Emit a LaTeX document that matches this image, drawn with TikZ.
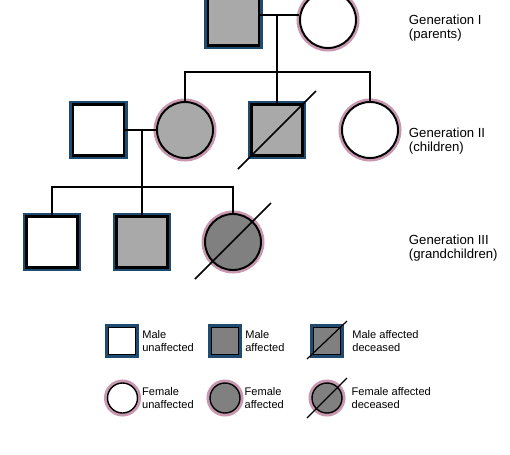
\documentclass[tikz,border=0pt]{standalone}
\usepackage{fontspec}
\setmainfont{Liberation Sans}
\usetikzlibrary{positioning}
\definecolor{edgeblue}{HTML}{1F4B70}
\definecolor{edgepink}{HTML}{C898B0}
\definecolor{affgray}{HTML}{A9A9A9}
\definecolor{decgray}{HTML}{808080}
\begin{document}
\begin{tikzpicture}[x=0.02cm, y=-0.02cm, line width=1.1pt,
    male/.style = {rectangle, minimum size=1.02cm, inner sep=0pt, fill=white, draw=black, line width=1.3pt, preaction={draw=edgeblue, line width=4pt}},
    female/.style = {circle, minimum size=1.12cm, inner sep=0pt, fill=white, draw=black, line width=1.1pt, preaction={draw=edgepink, line width=4pt}},
    keymale/.style = {male, minimum size=0.54cm, line width=1pt, preaction={draw=edgeblue, line width=2.4pt}},
    keyfemale/.style = {female, minimum size=0.6cm, line width=0.8pt, preaction={draw=edgepink, line width=2pt}},
    aff/.style = {fill=affgray}, dark/.style = {fill=decgray},
    dead/.style = {draw, line width=0.9pt},
    gen/.style = {anchor=west, align=left, inner sep=0pt, font=\fontsize{7.5}{8.2}\selectfont},
    key/.style = {align=left, inner sep=0pt, font=\fontsize{6.3}{6.9}\selectfont}]
    \path[use as bounding box, clip] (0,0) rectangle (510,454);

    % generation I
    \node[male, aff] (1) at (233.5,20) {};
    \node[female] (2) at (328,20) {};
    % generation II
    \node[male] (3) at (98.5,130) {};
    \node[female, aff] (4) at (185,130) {};
    \node[male, aff] (5) at (277,130) {};
    \node[female] (6) at (370,130) {};
    % generation III
    \node[male] (7) at (52,242) {};
    \node[male, aff] (8) at (142,242) {};
    \node[female, dark] (9) at (233,242) {};

    \draw[dead] ([shift={(-39,39)}]5.center) -- ([shift={(39,-39)}]5.center);
    \draw[dead] ([shift={(-38,37)}]9.center) -- ([shift={(38,-39)}]9.center);

    \draw ([shift={(0,-5)}]1.east) -- ([shift={(0,-5)}]2.west);
    \coordinate (s1) at (277,72);
    \draw (4.north) |- (s1) -| (6.north);
    \draw (5.north) -- (s1) -- (s1 |- 0,15);

    \draw (3) -- (4);
    \coordinate (s2) at (142,187);
    \draw (s2 |- 3) -- (s2);
    \draw (7.north) |- (s2) -| (9.north);
    \draw (s2) -- (8.north);

    \node[gen] (g1) at (408,28) {Generation I\\(parents)};
    \node[gen] (g2) at (408,141) {Generation II\\(children)};
    \node[gen] (g3) at (408,248) {Generation III\\(grandchildren)};

    % key
    \node[keymale] (l1) at (122,341) {};
    \node[keymale, dark] (l2) at (225,341) {};
    \node[keymale, dark] (l3) at (327,341) {};
    \node[keyfemale] (l4) at (122.5,398) {};
    \node[keyfemale, dark] (l5) at (225,398) {};
    \node[keyfemale, dark] (l6) at (327,398) {};
    \draw[dead, line width=0.7pt] ([shift={(-20,18)}]l3.center) -- ([shift={(20,-20)}]l3.center);
    \draw[dead, line width=0.7pt] ([shift={(-20,20)}]l6.center) -- ([shift={(20,-20)}]l6.center);

    \node[key, right=0.1cm of l1] (t1) {Male\\unaffected};
    \node[key, right=0.1cm of l2] (t2) {Male\\affected};
    \node[key, right=0.2cm of l3] (t3) {Male affected\\deceased};
    \node[key, right=0.06cm of l4] (t4) {Female\\unaffected};
    \node[key, right=0.06cm of l5] (t5) {Female\\affected};
    \node[key, right=0.16cm of l6] (t6) {Female affected\\deceased};
\end{tikzpicture}
\end{document}
